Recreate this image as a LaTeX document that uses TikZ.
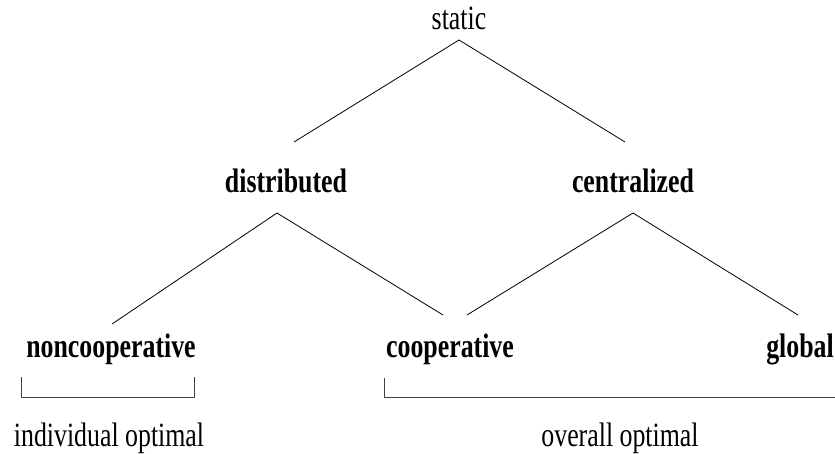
\documentclass[tikz,border=0pt]{standalone}
\usepackage{fontspec}
\setmainfont{Liberation Serif}[FakeStretch=0.76]
\begin{document}
\begin{tikzpicture}[x=1pt,y=-1pt,
  lbl/.style={anchor=base,inner sep=0pt,font=\fontsize{34}{40}\selectfont},
  blbl/.style={lbl,font=\fontsize{34}{40}\selectfont\bfseries},
  conn/.style={line width=0.8pt,black},
  brk/.style={line width=0.9pt,black!75}]
\useasboundingbox (0,0) rectangle (835,454);
\node[lbl]  (static) at (459,30) {static};
\node[blbl] (dist)   at (286,193) {distributed};
\node[blbl] (cent)   at (633,193) {centralized};
\node[blbl] (nonc)   at (111,357) {noncooperative};
\node[blbl] (coop)   at (450,357) {cooperative};
\node[blbl] (glob)   at (800,357) {global};
\node[lbl]  (indiv)  at (109,446) {individual optimal};
\node[lbl]  (overall) at (620,446) {overall optimal};
% tree connectors
\draw[conn] ([yshift=-10pt]static.base) -- ([xshift=8pt,yshift=51pt]dist.base);
\draw[conn] ([yshift=-10pt]static.base) -- ([xshift=-8pt,yshift=51pt]cent.base);
\draw[conn] ([xshift=-9pt,yshift=-20pt]dist.base) -- ([xshift=1pt,yshift=33pt]nonc.base);
\draw[conn] ([xshift=-9pt,yshift=-20pt]dist.base) -- ([xshift=-7pt,yshift=42pt]coop.base);
\draw[conn] ([yshift=-20pt]cent.base) -- ([xshift=17pt,yshift=42pt]coop.base);
\draw[conn] ([yshift=-20pt]cent.base) -- ([xshift=-2pt,yshift=42pt]glob.base);
% brackets
\draw[brk] (21,377) -- (21,397) -- (194,397) -- (194,377);
\draw[brk] (384,378) -- (384,397) -- (835,397);
\end{tikzpicture}
\end{document}
